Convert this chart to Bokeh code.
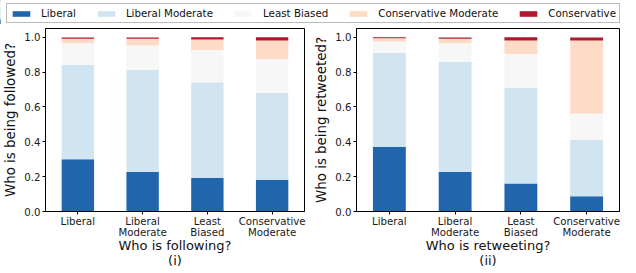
from bokeh.plotting import figure
from bokeh.models import ColumnDataSource, Legend, LegendItem, FixedTicker, Range1d
from bokeh.layouts import column, row
from bokeh.embed import file_html
from bokeh.resources import INLINE

categories = ["Liberal", "Liberal\nModerate", "Least\nBiased", "Conservative\nModerate"]
series_names = ["Liberal", "Liberal Moderate", "Least Biased", "Conservative Moderate", "Conservative"]
colors = ["#2166ac", "#d1e5f0", "#f7f7f7", "#fddbc7", "#b2182b"]

# panel (i): who is following -> who is being followed
follow_liberal = [0.300, 0.227, 0.194, 0.182]
follow_lib_mod = [0.542, 0.587, 0.547, 0.498]
follow_least = [0.123, 0.139, 0.185, 0.195]
follow_cons_mod = [0.026, 0.038, 0.061, 0.106]
follow_cons = [0.007, 0.007, 0.013, 0.019]

# panel (ii): who is retweeting -> who is being retweeted
rt_liberal = [0.372, 0.227, 0.160, 0.088]
rt_lib_mod = [0.537, 0.631, 0.548, 0.324]
rt_least = [0.067, 0.107, 0.195, 0.150]
rt_cons_mod = [0.018, 0.026, 0.078, 0.419]
rt_cons = [0.006, 0.007, 0.019, 0.017]

y_ticks = [0.0, 0.2, 0.4, 0.6, 0.8, 1.0]
FONT = "DejaVu Sans"
keys = ["s0", "s1", "s2", "s3", "s4"]


def make_source(vals):
    return ColumnDataSource(dict(x=list(range(len(categories))),
                                 **{k: v for k, v in zip(keys, vals)}))


def make_panel(vals, ylabel, xlabel, width, border_left, border_right):
    src = make_source(vals)
    p = figure(width=width, height=247, output_backend="svg", toolbar_location=None,
               x_range=Range1d(-0.5, len(categories) - 0.5), y_range=Range1d(0, 1.05),
               min_border_left=border_left, min_border_right=border_right,
               min_border_top=4, min_border_bottom=50)
    p.vbar_stack(keys, x="x", width=0.5, color=colors, line_color=None, source=src)
    p.xgrid.visible = False
    p.ygrid.visible = False
    p.outline_line_color = "black"
    p.outline_line_width = 1
    p.background_fill_color = "white"
    p.border_fill_color = "white"
    for ax in (p.xaxis, p.yaxis):
        ax.axis_line_color = "black"
        ax.major_tick_line_color = "black"
        ax.minor_tick_line_color = None
        ax.major_tick_in = 0
        ax.major_tick_out = 3
        ax.major_label_text_font = FONT
        ax.major_label_text_font_size = "10.2px"
        ax.major_label_text_color = "#1a1a1a"
        ax.major_label_text_line_height = 1.0
        ax.axis_label_text_font = FONT
        ax.axis_label_text_font_style = "normal"
        ax.axis_label_text_color = "#111111"
        ax.axis_label_text_line_height = 1.05
        ax.major_label_standoff = 2
    p.xaxis.ticker = FixedTicker(ticks=list(range(len(categories))))
    p.xaxis.major_label_overrides = {i: c for i, c in enumerate(categories)}
    p.xaxis.major_label_standoff = 1
    p.xaxis.axis_label = xlabel
    p.xaxis.axis_label_text_font_size = "13px"
    p.xaxis.axis_label_standoff = -3
    p.yaxis.ticker = FixedTicker(ticks=y_ticks)
    p.yaxis.major_label_overrides = {t: f"{t:.1f}" for t in y_ticks}
    p.yaxis.axis_label = ylabel
    p.yaxis.axis_label_text_font_size = "13.4px"
    p.yaxis.axis_label_standoff = 3
    return p


p1 = make_panel([follow_liberal, follow_lib_mod, follow_least, follow_cons_mod, follow_cons],
                "Who is being followed?", "Who is following?\n(i)", 310, 39, 6)
p2 = make_panel([rt_liberal, rt_lib_mod, rt_least, rt_cons_mod, rt_cons],
                "Who is being retweeted?", "Who is retweeting?\n(ii)", 310, 46, 1)

# legend strip (legend renderers are kept outside the visible x range)
lf = figure(width=620, height=24, output_backend="svg", toolbar_location=None,
            x_axis_type=None, y_axis_type=None, x_range=Range1d(100, 101), y_range=Range1d(0, 1),
            min_border=0, min_border_left=0, min_border_right=0, min_border_top=0, min_border_bottom=0)
lf.outline_line_color = None
lf.xgrid.visible = False
lf.ygrid.visible = False
legend_src = make_source([follow_liberal, follow_lib_mod, follow_least, follow_cons_mod, follow_cons])
rs = lf.vbar_stack(keys, x="x", width=0.5, color=colors, line_color=None, source=legend_src)
items = [LegendItem(label=name, renderers=[r]) for name, r in zip(series_names, rs)]
leg = Legend(items=items, orientation="horizontal", location=(6, 1), margin=0,
             padding=3, spacing=19, glyph_width=22, glyph_height=7, label_standoff=9,
             label_height=12, label_width=10, label_text_font=FONT, label_text_font_size="10.3px",
             label_text_color="#111111", border_line_color="#bbbbbb", border_line_width=1,
             border_line_alpha=1.0, background_fill_color="white", background_fill_alpha=1)
lf.add_layout(leg, "center")

layout = column(lf, row(p1, p2, spacing=0), spacing=0)
open("out.html", "w").write(file_html(layout, INLINE))
